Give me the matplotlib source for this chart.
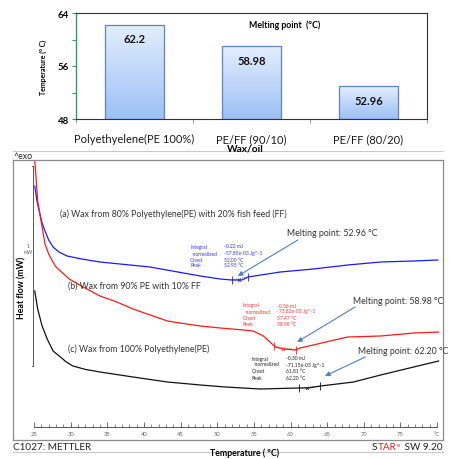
import numpy as np
import matplotlib
matplotlib.use("Agg")
import matplotlib.pyplot as plt
from matplotlib.colors import LinearSegmentedColormap
from matplotlib.lines import Line2D

W, H = 449, 460

# bar chart data
CATEGORIES = ["Polyethyelene(PE 100%)", "PE/FF (90/10)", "PE/FF (80/20)"]
MELTING_POINTS = [62.2, 58.98, 52.96]
VALUE_LABELS = ["62.2", "58.98", "52.96"]

# DSC traces (heat flow in mW, arbitrary offset)
TEMP_A = [25.1, 25.4, 25.8, 26.1, 26.5, 27.0, 27.6, 28.4, 29.5, 31.5, 34.0,
          40.8, 47.7, 50.4, 52.0, 53.4, 54.2, 58.6, 63.1, 67.8, 72.3, 76.8,
          80.1]
HF_A = [1.065, 0.99, 0.925, 0.88, 0.84, 0.795, 0.76, 0.735, 0.715, 0.70,
        0.685, 0.66, 0.615, 0.60, 0.595, 0.595, 0.61, 0.635, 0.65, 0.67,
        0.685, 0.69, 0.695]

TEMP_B = [25.1, 25.5, 26.1, 26.5, 27.0, 27.5, 28.0, 28.6, 29.8, 31.7, 34.0,
          36.3, 38.5, 43.2, 44.9, 47.7, 50.4, 53.6, 54.9, 56.3, 57.2, 57.9,
          59.0, 60.7, 61.3, 63.1, 65.4, 67.8, 72.3, 76.8, 80.2]
HF_B = [1.195, 0.99, 0.86, 0.775, 0.725, 0.69, 0.66, 0.64, 0.60, 0.56, 0.515,
        0.485, 0.45, 0.39, 0.38, 0.365, 0.355, 0.345, 0.34, 0.315, 0.285,
        0.26, 0.25, 0.245, 0.255, 0.27, 0.29, 0.31, 0.315, 0.33, 0.335]

TEMP_C = [25.1, 25.5, 26.1, 26.8, 27.6, 28.6, 29.4, 30.3, 32.0, 34.0, 38.5,
          43.2, 47.7, 51.1, 55.9, 61.1, 62.4, 64.1, 68.6, 72.3, 76.8, 80.2]
HF_C = [0.54, 0.45, 0.365, 0.30, 0.24, 0.21, 0.185, 0.165, 0.148, 0.135,
        0.11, 0.085, 0.07, 0.06, 0.05, 0.055, 0.055, 0.065, 0.085, 0.12,
        0.16, 0.19]

# integration limits and peaks
LIMITS_A, PEAK_A = [52.0, 54.2], 52.95
LIMITS_B, PEAK_B = [57.8, 60.8], 58.98
LIMITS_C, PEAK_C = [61.2, 64.0], 62.20

INFO_KEYS = ["Integral", "  normalized", "Onset", "Peak"]
INFO_A = ["-0.22 mJ", "-57.85e-03 Jg^-1", "52.00 °C", "52.95 °C"]
INFO_B = ["-0.56 mJ", "-73.82e-03 Jg^-1", "57.47 °C", "58.98 °C"]
INFO_C = ["-0.30 mJ", "-71.15e-03 Jg^-1", "61.81 °C", "62.20 °C"]

MP_LABELS = ["Melting point: 52.96 °C", "Melting point: 58.98 °C",
             "Melting point: 62.20 °C"]


def rect(x0, y0, x1, y1):
    return [x0 / W, 1 - y1 / H, (x1 - x0) / W, (y1 - y0) / H]


def fx(px):
    return px / W


def fy(py):
    return 1 - py / H


plt.rcParams["font.family"] = ["Lato", "DejaVu Sans"]
fig = plt.figure(figsize=(W / 100, H / 100), dpi=100)

# ---------------- bar chart ----------------
bax = fig.add_axes(rect(76, 14, 427, 120))
xs = np.arange(len(CATEGORIES))
vals = np.array(MELTING_POINTS)
bars = bax.bar(xs, vals - 48, bottom=48, width=0.5, facecolor="none",
               edgecolor="#5f84c2", linewidth=0.9, zorder=3)
grad_cmap = LinearSegmentedColormap.from_list("bar", ["#e4eefd", "#9cc0f6"])
grad = np.linspace(0, 1, 256).reshape(-1, 1)
for b, x, v, lbl in zip(bars, xs, vals, VALUE_LABELS):
    im = bax.imshow(grad, extent=(x - 0.25, x + 0.25, 48, v), origin="upper",
                    aspect="auto", cmap=grad_cmap, zorder=2)
    im.set_clip_path(b)
    bax.annotate(lbl, (x, v), xytext=(0, -10), textcoords="offset points",
                 ha="center", va="center", fontsize=8, fontweight="bold",
                 color="#111111")
bax.set_xlim(-0.5, 2.5)
bax.set_ylim(48, 64)
bax.set_yticks([48, 56, 64])
bax.set_yticks([52, 60], minor=True)
bax.tick_params(axis="y", which="both", length=3, width=0.8, color="#2ca05a",
                labelsize=7, pad=2)
for t in bax.get_yticklabels():
    t.set_fontweight("bold")
bax.set_xticks(xs)
bax.set_xticklabels(CATEGORIES, fontsize=8, color="#1a1a1a")
bax.set_xticks([-0.5, 0.5, 1.5, 2.5], minor=True)
bax.tick_params(axis="x", which="major", length=0, pad=10)
bax.tick_params(axis="x", which="minor", length=3, width=0.6, color="#888888")
for side in ["top", "right", "bottom"]:
    bax.spines[side].set_color("#333333")
    bax.spines[side].set_linewidth(0.8)
bax.spines["left"].set_color("#2ca05a")
bax.spines["left"].set_linewidth(1.0)
bax.text(0.595, 0.895, "Melting point  (°C)", transform=bax.transAxes,
         ha="center", va="center", fontsize=6.3, fontweight="bold")
fig.text(fx(43), fy(67), "Temperature (° C)", rotation=90, ha="center",
         va="center", fontsize=5, fontweight="bold")
fig.text(fx(245), fy(149), "Wax/oil", ha="center", va="center", fontsize=7.3,
         fontweight="bold", zorder=5)

# ---------------- DSC thermogram ----------------
fig.add_artist(Line2D([fx(12.7), fx(443)], [fy(152), fy(152)], color="#c8c8c8",
                      lw=0.8, zorder=0))
fig.add_artist(Line2D([fx(12.7), fx(443)], [fy(453), fy(453)], color="#c8c8c8",
                      lw=0.8, zorder=0))
fig.text(fx(13), fy(156.5), "^exo", ha="left", va="center", fontsize=6.3,
         color="#222222")

dax = fig.add_axes(rect(12.7, 161, 443, 441))
XLIM = (22.09, 80.80)
dax.set_xlim(*XLIM)
dax.set_ylim(-0.205, 1.195)
dax.set_xticks([])
dax.set_yticks([])
for s in dax.spines.values():
    s.set_color("#8c8c8c")
    s.set_linewidth(0.9)

dax.plot(TEMP_A, HF_A, color="#1a1aff", lw=0.9)
dax.plot(TEMP_B, HF_B, color="#ff1a1a", lw=0.9)
dax.plot(TEMP_C, HF_C, color="#111111", lw=0.9)

for temps, hfs, lims, peak, col in [
    (TEMP_A, HF_A, LIMITS_A, PEAK_A, "#1a1aff"),
    (TEMP_B, HF_B, LIMITS_B, PEAK_B, "#ff1a1a"),
    (TEMP_C, HF_C, LIMITS_C, PEAK_C, "#111111"),
]:
    ly = np.interp(lims, temps, hfs)
    dax.plot(lims, ly, color=col, lw=0.5, ls=(0, (1.5, 1.5)))
    dax.plot(lims, ly, ls="none", marker="|", ms=6, mew=0.6, color=col)
    dax.plot([peak], [np.interp(peak, temps, hfs)], ls="none", marker="x",
             ms=2, mew=0.5, color=col)

# scale bar (1 mW)
dax.plot([24.86, 24.86], [0.165, 1.165], color="#555555", lw=0.7)
dax.plot([24.7, 24.86], [0.165, 0.165], color="#555555", lw=0.7)
dax.plot([24.7, 24.86], [1.165, 1.165], color="#555555", lw=0.7)
dax.text(24.2, 0.765, "1", ha="center", va="center", fontsize=3.5,
         color="#555555")
dax.text(24.2, 0.735, "mW", ha="center", va="center", fontsize=3.5,
         color="#555555")
fig.text(fx(22), fy(288), "Heat flow (mW)", rotation=90, ha="center",
         va="center", fontsize=6.3, fontweight="bold")

cap_kw = dict(ha="left", va="center", fontsize=6.3, color="#333333")
dax.text(28.5, 0.93,
         "(a) Wax from 80% Polyethylene(PE) with 20% fish feed (FF)", **cap_kw)
dax.text(29.6, 0.57, "(b) Wax from 90% PE with 10% FF", **cap_kw)
dax.text(29.6, 0.255, "(c) Wax from 100% Polyethylene(PE)", **cap_kw)

for x0, x1, ys, vals_txt, col in [
    (46.3, 50.9, [0.765, 0.73, 0.70, 0.67], INFO_A, "#3333ff"),
    (53.5, 58.2, [0.47, 0.44, 0.41, 0.38], INFO_B, "#ff3333"),
    (54.7, 59.4, [0.205, 0.175, 0.14, 0.105], INFO_C, "#222222"),
]:
    for key, val, yy in zip(INFO_KEYS, vals_txt, ys):
        dax.text(x0, yy, key, ha="left", va="center", fontsize=3.6, color=col)
        dax.text(x1, yy, val, ha="left", va="center", fontsize=3.6, color=col)

arrow_kw = dict(arrowstyle="-|>", color="#4f81bd", lw=0.8, mutation_scale=7,
                shrinkA=0, shrinkB=0)
for lbl, lpos, tail, head in [
    (MP_LABELS[0], (59.5, 0.835), (61.0, 0.795), (52.8, 0.615)),
    (MP_LABELS[1], (68.5, 0.495), (68.8, 0.46), (60.9, 0.285)),
    (MP_LABELS[2], (69.2, 0.24), (70.2, 0.21), (64.7, 0.115)),
]:
    dax.text(lpos[0], lpos[1], lbl, ha="left", va="center", fontsize=6.3,
             color="#333333")
    dax.annotate("", xy=head, xytext=tail, arrowprops=arrow_kw)

# temperature axis inside the frame
tax = fig.add_axes([fx(12.7), fy(428), (443 - 12.7) / W, 0.0005])
tax.set_xlim(*XLIM)
tax.patch.set_alpha(0)
for side in ["top", "left", "right"]:
    tax.spines[side].set_visible(False)
tax.spines["bottom"].set_bounds(25, 80)
tax.spines["bottom"].set_color("#555555")
tax.spines["bottom"].set_linewidth(0.7)
tax.set_yticks([])
major = list(range(25, 81, 5))
tax.set_xticks(major)
tax.set_xticklabels([str(t) for t in major[:-1]] + ["°C"])
tax.set_xticks(list(range(25, 81)), minor=True)
tax.tick_params(axis="x", which="major", direction="in", length=3.5, width=0.6,
                color="#555555", labelsize=4.2, labelcolor="#666666", pad=3)
tax.tick_params(axis="x", which="minor", direction="in", length=2, width=0.5,
                color="#555555")

fig.text(fx(12.7), fy(447.5), "C1027: METTLER", ha="left", va="center",
         fontsize=7.2, color="#222222")
t1 = fig.text(fx(372), fy(447.5), "S", ha="left", va="center", fontsize=7.2,
              color="#222222")
t2 = plt.annotate("TAR", xy=(1, 0), xycoords=t1, ha="left", va="bottom",
                  fontsize=7.2, color="#e02020", annotation_clip=False)
plt.annotate("e", xy=(1, 0.45), xycoords=t2, ha="left", va="bottom",
             fontsize=4.5, color="#e02020", annotation_clip=False)
plt.annotate(" SW 9.20", xy=(1, 0), xycoords=t2, xytext=(4, 0),
             textcoords="offset points", ha="left", va="bottom", fontsize=7.2,
             color="#222222", annotation_clip=False)
fig.text(fx(245), fy(453.5), "Temperature ( °C)", ha="center", va="center",
         fontsize=6.3, fontweight="bold", zorder=5)

fig.savefig("out.png", dpi=100)
